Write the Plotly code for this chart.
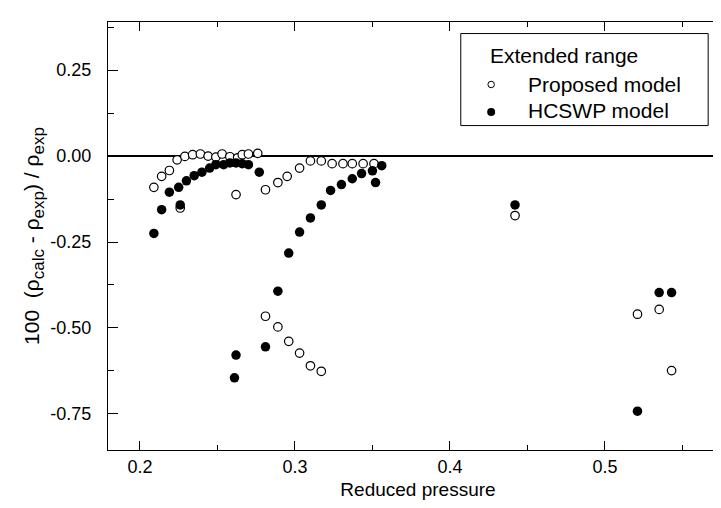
import plotly.graph_objects as go

# Proposed model (open circles)
prop_x = [0.209, 0.214, 0.219, 0.224, 0.229, 0.234, 0.239, 0.244, 0.249, 0.253, 0.258,
          0.263, 0.266, 0.270, 0.276, 0.226, 0.262,
          0.281, 0.289, 0.295, 0.303, 0.310, 0.317, 0.324, 0.331, 0.337, 0.344, 0.351,
          0.281, 0.289, 0.296, 0.303, 0.310, 0.317,
          0.442, 0.521, 0.535, 0.543]
prop_y = [-0.091, -0.059, -0.042, -0.011, -0.001, 0.004, 0.006, 0.000, -0.003, 0.006, -0.002,
          -0.005, 0.004, 0.006, 0.008, -0.151, -0.112,
          -0.098, -0.077, -0.059, -0.035, -0.014, -0.014, -0.022, -0.022, -0.022, -0.022, -0.022,
          -0.466, -0.497, -0.539, -0.573, -0.610, -0.626,
          -0.173, -0.460, -0.446, -0.624]

# HCSWP model (filled circles)
hcs_x = [0.209, 0.214, 0.219, 0.225, 0.226, 0.230, 0.235, 0.240, 0.245, 0.249, 0.254,
         0.258, 0.262, 0.266, 0.270, 0.277,
         0.281, 0.262, 0.261,
         0.289, 0.296, 0.303, 0.310, 0.317, 0.323, 0.330, 0.337, 0.343, 0.350, 0.356, 0.352,
         0.442, 0.521, 0.535, 0.543]
hcs_y = [-0.225, -0.156, -0.105, -0.091, -0.142, -0.072, -0.057, -0.047, -0.035, -0.025, -0.025,
         -0.020, -0.020, -0.022, -0.025, -0.047,
         -0.555, -0.579, -0.645,
         -0.393, -0.282, -0.221, -0.180, -0.142, -0.100, -0.083, -0.066, -0.051, -0.043, -0.028, -0.077,
         -0.142, -0.742, -0.397, -0.397]

x_ticks = [0.2, 0.3, 0.4, 0.5]
x_tick_text = ["0.2", "0.3", "0.4", "0.5"]
y_ticks = [-0.75, -0.50, -0.25, 0.00, 0.25]
y_tick_text = ["-0.75", "-0.50", "-0.25", "0.00", "0.25"]

legend_title = "Extended range"
legend_names = ["Proposed model", "HCSWP model"]

FONT = "Liberation Sans, Arial, sans-serif"

fig = go.Figure()
fig.add_trace(go.Scatter(x=prop_x, y=prop_y, mode="markers", showlegend=False,
                         marker=dict(size=8.5, color="white", line=dict(color="black", width=1.2))))
fig.add_trace(go.Scatter(x=hcs_x, y=hcs_y, mode="markers", showlegend=False,
                         marker=dict(size=9.5, color="black", line=dict(color="black", width=0))))

# legend symbols on an invisible overlay axis (paper-like 0..1 coordinates)
fig.add_trace(go.Scatter(x=[0.618], y=[0.854], mode="markers", showlegend=False,
                         xaxis="x2", yaxis="y2", hoverinfo="skip",
                         marker=dict(size=6.5, color="white", line=dict(color="black", width=1))))
fig.add_trace(go.Scatter(x=[0.618], y=[0.790], mode="markers", showlegend=False,
                         xaxis="x2", yaxis="y2", hoverinfo="skip",
                         marker=dict(size=8, color="black")))

axis_common = dict(showline=True, linecolor="black", linewidth=1.3, mirror="allticks",
                   ticks="inside", tickcolor="black", tickwidth=1, showgrid=False,
                   tickfont=dict(family=FONT, size=18, color="black"))

SUB = "<sub><span style='font-size:17px'>{}</span></sub>"
y_title = ("100&nbsp;&nbsp;(ρ" + SUB.format("calc") + "&nbsp;-&nbsp;ρ"
           + SUB.format("exp") + ")&nbsp;/&nbsp;ρ" + SUB.format("exp"))

fig.update_xaxes(range=[0.1794, 0.5794], tickvals=x_ticks, ticktext=x_tick_text, ticklen=9,
                 minor=dict(dtick=0.05, tick0=0.2, ticks="inside", ticklen=5, tickcolor="black"),
                 zeroline=False, ticklabelstandoff=0,
                 title=dict(text="Reduced pressure", font=dict(family=FONT, size=19, color="black"),
                            standoff=6),
                 **axis_common)
fig.update_yaxes(range=[-0.855, 0.390], tickvals=y_ticks, ticktext=y_tick_text, ticklen=10,
                 minor=dict(dtick=0.125, tick0=0, ticks="inside", ticklen=6, tickcolor="black"),
                 zeroline=True, zerolinecolor="black", zerolinewidth=1.5, ticklabelstandoff=12,
                 title=dict(text=y_title,
                            font=dict(family=FONT, size=21, color="black"), standoff=4),
                 **axis_common)

fig.update_layout(
    width=721, height=508,
    margin=dict(l=100, r=1, t=14, b=66, autoexpand=False),
    plot_bgcolor="white", paper_bgcolor="white",
    showlegend=False,
    xaxis2=dict(overlaying="x", range=[0, 1], visible=False, fixedrange=True),
    yaxis2=dict(overlaying="y", range=[0, 1], visible=False, fixedrange=True),
    shapes=[dict(type="rect", xref="paper", yref="paper", x0=0.569, x1=0.968, y0=0.758, y1=0.973,
                 line=dict(color="black", width=1), fillcolor="rgba(0,0,0,0)")],
    annotations=[
        dict(text=legend_title, xref="paper", yref="paper", x=0.613, y=0.921,
             xanchor="left", yanchor="middle", showarrow=False,
             font=dict(family=FONT, size=21, color="black")),
        dict(text=legend_names[0], xref="paper", yref="paper", x=0.674, y=0.854,
             xanchor="left", yanchor="middle", showarrow=False,
             font=dict(family=FONT, size=21, color="black")),
        dict(text=legend_names[1], xref="paper", yref="paper", x=0.674, y=0.793,
             xanchor="left", yanchor="middle", showarrow=False,
             font=dict(family=FONT, size=21, color="black")),
    ],
)

fig.write_html("out.html")
